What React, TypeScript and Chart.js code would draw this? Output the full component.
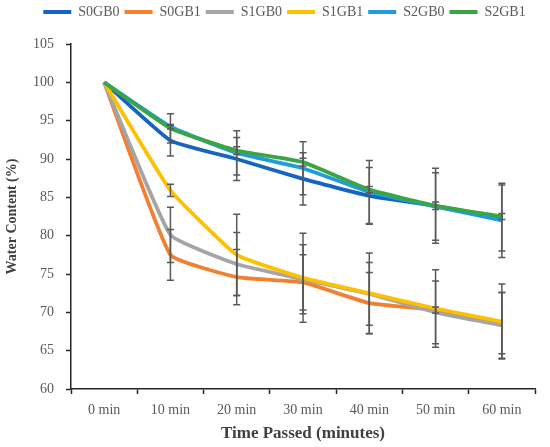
import { useEffect, useRef } from "react";
import { Chart, registerables } from "chart.js";

Chart.register(...registerables);

const TIME_LABELS = ["0 min", "10 min", "20 min", "30 min", "40 min", "50 min", "60 min"];
const SERIES_NAMES = ["S0GB0", "S0GB1", "S1GB0", "S1GB1", "S2GB0", "S2GB1"];
const COLORS = ["#1565C0", "#F28030", "#A5A5A5", "#FFC000", "#1F9BDE", "#3AA643"];

const S0GB0 = [100, 92.4, 90.0, 87.4, 85.2, 83.9, 82.3];
const S0GB1 = [100, 77.5, 74.6, 73.9, 71.2, 70.3, 68.6];
const S1GB0 = [100, 80.1, 76.3, 74.3, 72.4, 70.0, 68.3];
const S1GB1 = [100, 85.9, 77.5, 74.5, 72.5, 70.5, 68.8];
const S2GB0 = [100, 94.2, 90.8, 88.8, 85.7, 83.8, 82.0];
const S2GB1 = [100, 94.0, 91.1, 89.6, 86.0, 83.9, 82.5];

// +/- error per point
const ERR_S0GB0 = [0, 2.0, 2.8, 3.4, 3.7, 0.5, 4.3];
const ERR_S0GB1 = [0, 3.3, 3.6, 3.6, 4.0, 0.4, 4.0];
const ERR_S1GB0 = [0, 3.6, 4.1, 4.5, 4.1, 4.1, 4.3];
const ERR_S1GB1 = [0, 0.8, 5.3, 5.8, 5.25, 5.05, 4.9];
const ERR_S2GB0 = [0, 0.3, 2.9, 3.45, 4.1, 4.4, 4.85];
const ERR_S2GB1 = [0, 1.9, 0.5, 0.5, 0.4, 4.9, 0.4];

const SERIES = [S0GB0, S0GB1, S1GB0, S1GB1, S2GB0, S2GB1];
const ERRORS = [ERR_S0GB0, ERR_S0GB1, ERR_S1GB0, ERR_S1GB1, ERR_S2GB0, ERR_S2GB1];

const Y_TICKS = { min: 60, max: 105, step: 5 };

const FONT = "'Liberation Serif', 'Times New Roman', serif";
const LEGEND_DX = 17;

const errorBarPlugin = {
  id: "errorBars",
  afterDatasetsDraw(chart: any) {
    const { ctx } = chart;
    const x = chart.scales.x;
    const y = chart.scales.y;
    ctx.save();
    ctx.strokeStyle = "#595959";
    ctx.lineWidth = 1.5;
    SERIES.forEach((vals, s) => {
      ERRORS[s].forEach((e, i) => {
        if (!e) return;
        const px = x.getPixelForValue(i);
        const top = y.getPixelForValue(vals[i] + e);
        const bot = y.getPixelForValue(vals[i] - e);
        ctx.beginPath();
        ctx.moveTo(px, top);
        ctx.lineTo(px, bot);
        ctx.moveTo(px - 3.5, top);
        ctx.lineTo(px + 3.5, top);
        ctx.moveTo(px - 3.5, bot);
        ctx.lineTo(px + 3.5, bot);
        ctx.stroke();
      });
    });
    ctx.restore();
  },
};

// keep the plot top where the original has it, and nudge the legend right
const legendFixPlugin = {
  id: "legendFix",
  beforeInit(chart: any) {
    const legend = chart.legend;
    if (!legend) return;
    const fit = legend.fit;
    legend.fit = function () {
      fit.call(this);
      this.height = 44;
    };
    const draw = legend.draw;
    legend.draw = function (...args: any[]) {
      const c = this.ctx;
      c.save();
      c.translate(LEGEND_DX, 0);
      draw.apply(this, args);
      c.restore();
    };
  },
};

export default function App() {
  const canvasRef = useRef<HTMLCanvasElement>(null);

  useEffect(() => {
    document.body.style.margin = "0";
    if (!canvasRef.current) return;
    Chart.defaults.font.family = FONT;

    const chart = new Chart(canvasRef.current, {
      type: "line",
      data: {
        labels: TIME_LABELS,
        datasets: SERIES.map((vals, i) => ({
          label: SERIES_NAMES[i],
          data: vals,
          borderColor: COLORS[i],
          backgroundColor: COLORS[i],
          borderWidth: 3.8,
          pointRadius: 0,
          tension: 0.12,
          order: SERIES.length - 1 - i,
        })),
      },
      options: {
        animation: false,
        responsive: false,
        layout: { padding: { left: 0, right: 15, top: 0, bottom: 0 } },
        plugins: {
          tooltip: { enabled: false },
          legend: {
            position: "top",
            labels: {
              boxWidth: 28,
              boxHeight: 4,
              padding: 5,
              color: "#595959",
              font: { size: 14, family: FONT },
              sort: (a: any, b: any) => a.datasetIndex - b.datasetIndex,
              generateLabels: (c: any) =>
                Chart.defaults.plugins.legend.labels
                  .generateLabels(c)
                  .map((l: any) => ({ ...l, lineWidth: 0, fillStyle: COLORS[l.datasetIndex] })),
            },
          },
        },
        scales: {
          x: {
            type: "category",
            offset: true,
            afterFit: (s: any) => {
              s.height = 58;
            },
            grid: {
              offset: true,
              drawOnChartArea: false,
              drawTicks: true,
              tickLength: 5,
              tickColor: "#262626",
              tickWidth: 1.5,
            },
            border: { display: true, color: "#262626", width: 1.5 },
            ticks: { color: "#595959", font: { size: 14, family: FONT }, padding: 8, maxRotation: 0 },
            title: {
              display: true,
              text: "Time Passed (minutes)",
              color: "#404040",
              font: { size: 17, weight: "bold", family: FONT },
              padding: { top: 2, bottom: 3 },
            },
          },
          y: {
            min: Y_TICKS.min,
            max: Y_TICKS.max,
            afterFit: (s: any) => {
              s.width = 71;
            },
            grid: {
              drawOnChartArea: false,
              drawTicks: true,
              tickLength: 5,
              tickColor: "#262626",
              tickWidth: 1.5,
            },
            border: { display: true, color: "#262626", width: 1.5 },
            ticks: {
              stepSize: Y_TICKS.step,
              color: "#595959",
              font: { size: 14, family: FONT },
              padding: 12,
            },
            title: {
              display: true,
              text: "Water Content (%)",
              color: "#404040",
              font: { size: 14, weight: "bold", family: FONT },
              padding: { top: 4, bottom: 0 },
            },
          },
        },
      },
      plugins: [errorBarPlugin, legendFixPlugin],
    });

    return () => chart.destroy();
  }, []);

  return (
    <div style={{ width: 550, height: 447, background: "#fff" }}>
      <canvas ref={canvasRef} width={550} height={447} />
    </div>
  );
}
